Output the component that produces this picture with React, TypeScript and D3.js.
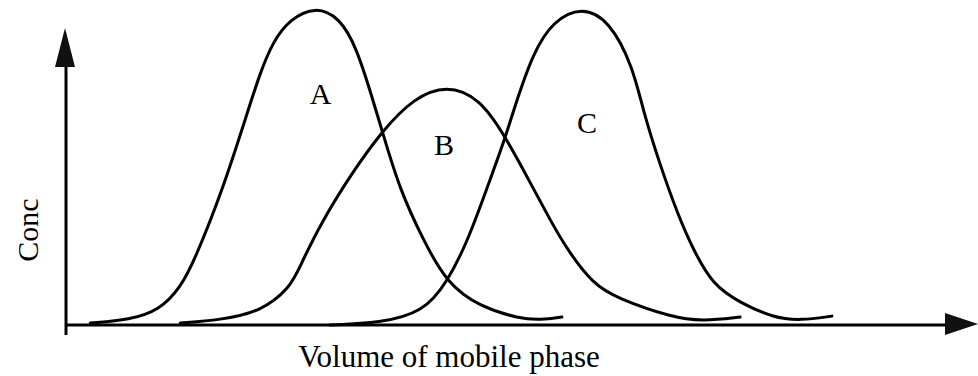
import React from "react";
import * as d3 from "d3";

// Volume of mobile phase (arbitrary units 0-100) and concentration (0-100)
const volumeA = [2.7, 7.1, 10.4, 12.7, 14.3, 17.4, 20.1, 21.5, 23.0, 24.9, 27.7, 30.4, 32.3, 34.1, 35.2, 37.1, 39.7, 42.3, 46.0, 50.4, 52.7, 55.1];
const concA = [0.6, 1.6, 4.7, 11.7, 20.5, 42.6, 66.5, 79.0, 89.5, 96.5, 100.5, 97.0, 87.5, 71.0, 60.5, 42.6, 26.8, 13.2, 5.7, 2.0, 1.6, 2.5];

const volumeB = [12.7, 17.1, 21.6, 24.9, 26.0, 28.2, 31.6, 35.2, 38.6, 42.3, 46.0, 48.8, 51.6, 53.8, 55.7, 58.6, 61.2, 67.4, 70.8, 74.9];
const concB = [0.6, 1.6, 4.1, 11.7, 18.5, 31.5, 47.3, 61.5, 71.5, 75.8, 71.5, 59.5, 44.8, 33.1, 23.7, 12.8, 8.5, 2.3, 1.2, 2.5];

const volumeC = [29.3, 34.9, 39.7, 42.3, 44.7, 47.1, 48.8, 49.7, 51.9, 54.1, 57.3, 60.4, 63.0, 64.1, 66.0, 68.0, 69.7, 71.9, 74.9, 78.6, 81.6, 85.1];
const concC = [0, 0.6, 4.1, 13.2, 26.8, 45.7, 59.0, 67.5, 86.0, 95.8, 100.5, 96.0, 81.4, 67.8, 50.5, 34.7, 23.7, 12.5, 7.0, 2.3, 1.4, 2.8];

const peakNames = ["A", "B", "C"];
const labelVolume = [28.3, 42.0, 57.9];
const labelConc = [69.7, 53.6, 60.6];

const xTitle = "Volume of mobile phase";
const yTitle = "Conc";

export default function App() {
  const W = 978;
  const H = 376;
  const x = d3.scaleLinear().domain([0, 100]).range([66, 966]);
  const y = d3.scaleLinear().domain([0, 100]).range([325, 8]);

  const line = d3
    .line<[number, number]>()
    .x((d) => x(d[0]))
    .y((d) => y(d[1]))
    .curve(d3.curveBasis);

  const series = [
    d3.zip(volumeA, concA) as [number, number][],
    d3.zip(volumeB, concB) as [number, number][],
    d3.zip(volumeC, concC) as [number, number][],
  ];

  const font = "'Liberation Serif', 'Times New Roman', serif";
  const x0 = x(0);
  const y0 = y(0);

  return (
    <svg
      width={W}
      height={H}
      style={{ position: "absolute", left: 0, top: 0, background: "#fff" }}
    >
      {/* axes */}
      <line x1={x0} y1={y0 + 10} x2={x0} y2={64} stroke="#000" strokeWidth={3} />
      <path d={`M${x0 - 1},28 L${x0 - 11},67 L${x0 + 9},67 Z`} fill="#111" />
      <line x1={x0} y1={y0} x2={946} y2={y0} stroke="#000" strokeWidth={3} />
      <path d={`M978,${y0 - 1} L945,${y0 - 12} L945,${y0 + 10} Z`} fill="#111" />

      {series.map((s, i) => (
        <path
          key={i}
          d={line(s) || ""}
          fill="none"
          stroke="#000"
          strokeWidth={3}
          strokeLinecap="round"
          strokeLinejoin="round"
        />
      ))}

      {peakNames.map((n, i) => (
        <text
          key={n}
          x={x(labelVolume[i])}
          y={y(labelConc[i])}
          textAnchor="middle"
          fontFamily={font}
          fontSize={30}
          fill="#000"
        >
          {n}
        </text>
      ))}

      <text x={449} y={367} textAnchor="middle" fontFamily={font} fontSize={31} fill="#000">
        {xTitle}
      </text>
      <text
        transform="translate(38,230) rotate(-90)"
        textAnchor="middle"
        fontFamily={font}
        fontSize={30}
        fill="#000"
      >
        {yTitle}
      </text>
    </svg>
  );
}
